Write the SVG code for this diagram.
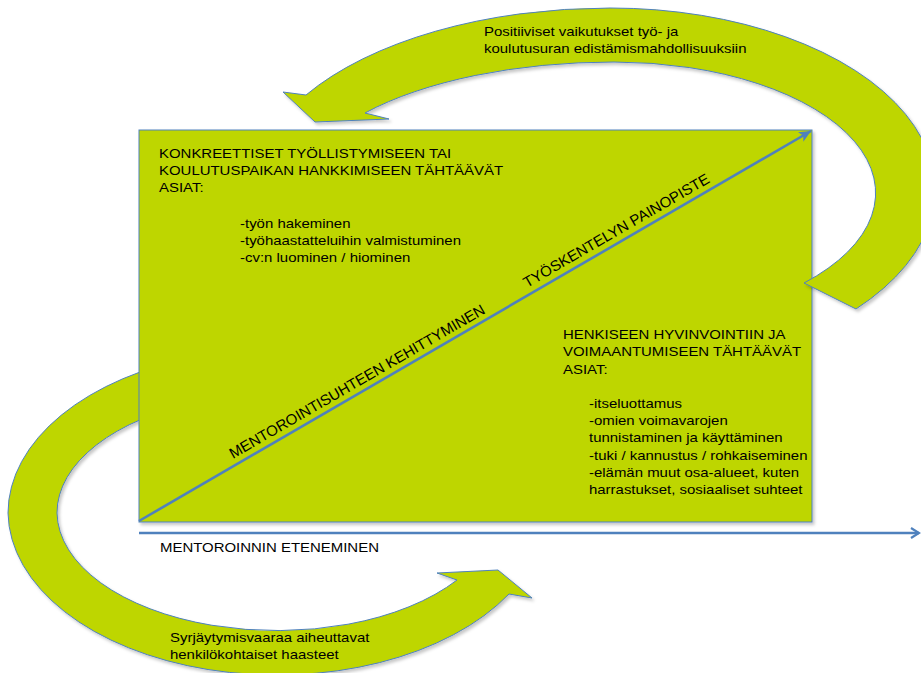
<svg xmlns="http://www.w3.org/2000/svg" width="921" height="673" viewBox="0 0 921 673">
<style>
.shape{fill:#BED600;stroke:#4F81BD;stroke-width:1;filter:url(#sh)}
.t{font-family:"Liberation Sans",Arial,sans-serif;font-size:13.6px;fill:#000}
.d{font-family:"Liberation Sans",Arial,sans-serif;font-size:15px;fill:#000}
.ln{stroke:#4F81BD;stroke-width:2.6;fill:none}
</style>
<defs>
<filter id="sh" x="-10%" y="-10%" width="120%" height="120%">
<feDropShadow dx="2" dy="2.5" stdDeviation="1.6" flood-color="#000" flood-opacity="0.22"/>
</filter>
<marker id="head" markerUnits="userSpaceOnUse" markerWidth="20" markerHeight="20" refX="12" refY="6" orient="auto">
<path d="M0,0.5 L12,6 L0,11.5 L3,6 Z" fill="#4F81BD"/>
</marker>
<marker id="chev" markerUnits="userSpaceOnUse" markerWidth="16" markerHeight="16" refX="9" refY="6" orient="auto">
<path d="M1,1 L9,6 L1,11" fill="none" stroke="#4F81BD" stroke-width="2.2"/>
</marker>
</defs>

<g id="bottom-arrow">
<path class="shape" d="M200,356 A269,164 0 0 0 8,513 A269,164 0 0 0 509,594 L532,598 L498,570 L437,573 L457,580 A220,119 0 0 1 57,513 A220,119 0 0 1 200,401.5 Z"/>
<text class="t" transform="translate(170,642) scale(1.1,1)"><tspan x="0" y="0">Syrjäytymisvaaraa aiheuttavat</tspan><tspan x="0" y="16.6">henkilökohtaiset haasteet</tspan></text>
</g>

<g id="main-box">
<rect class="shape" x="139" y="130" width="673" height="392"/>
</g>

<g id="top-arrow">
<path class="shape" d="M856,309 A325,182 0 0 0 610,8 A356,182 0 0 0 306,95 L283,92 L315,122 L389,119 L365,113 A315,131 0 0 1 614,62 A262,131 0 0 1 804,283 Z"/>
<text class="t" transform="translate(484,36) scale(1.1,1)"><tspan x="0" y="0">Positiiviset vaikutukset työ- ja</tspan><tspan x="0" y="17.2">koulutusuran edistämismahdollisuuksiin</tspan></text>
</g>

<g id="connectors">
<line class="ln" x1="139" y1="521" x2="811" y2="131" marker-end="url(#head)"/>
<line class="ln" x1="139" y1="533" x2="919" y2="533" marker-end="url(#chev)"/>
</g>

<g id="left-content">
<text class="t" transform="translate(159,158) scale(1.1,1)"><tspan x="0" y="0">KONKREETTISET TYÖLLISTYMISEEN TAI</tspan><tspan x="0" y="17">KOULUTUSPAIKAN HANKKIMISEEN TÄHTÄÄVÄT</tspan><tspan x="0" y="34">ASIAT:</tspan></text>
<text class="t" transform="translate(240,228) scale(1.1,1)"><tspan x="0" y="0">-työn hakeminen</tspan><tspan x="0" y="17">-työhaastatteluihin valmistuminen</tspan><tspan x="0" y="34">-cv:n luominen / hiominen</tspan></text>
</g>

<g id="right-content">
<text class="t" transform="translate(563,339) scale(1.1,1)"><tspan x="0" y="0">HENKISEEN HYVINVOINTIIN JA</tspan><tspan x="0" y="17.5">VOIMAANTUMISEEN TÄHTÄÄVÄT</tspan><tspan x="0" y="35">ASIAT:</tspan></text>
<text class="t" transform="translate(589,408) scale(1.1,1)"><tspan x="0" y="0">-itseluottamus</tspan><tspan x="0" y="17.2">-omien voimavarojen</tspan><tspan x="0" y="34.4">tunnistaminen ja käyttäminen</tspan><tspan x="0" y="51.6">-tuki / kannustus / rohkaiseminen</tspan><tspan x="0" y="68.8">-elämän muut osa-alueet, kuten</tspan><tspan x="0" y="86">harrastukset, sosiaaliset suhteet</tspan></text>
</g>

<g id="diagonal-labels">
<text class="d" transform="translate(233,459) rotate(-30)">MENTOROINTISUHTEEN KEHITTYMINEN</text>
<text class="d" transform="translate(527,288) rotate(-30)">TYÖSKENTELYN PAINOPISTE</text>
</g>

<g id="axis-label">
<text class="t" transform="translate(160,552) scale(1.1,1)">MENTOROINNIN ETENEMINEN</text>
</g>
</svg>
